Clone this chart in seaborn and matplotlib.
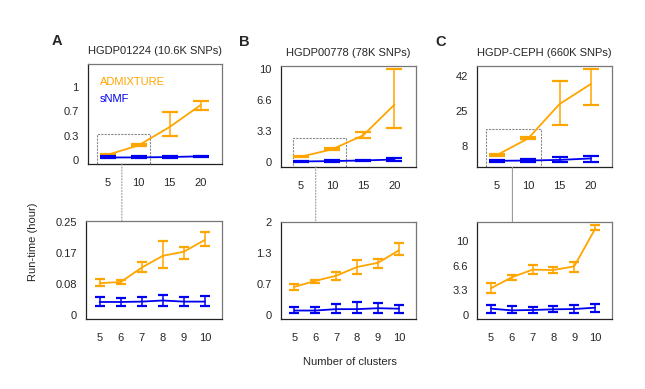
import numpy as np
import pandas as pd
import matplotlib
matplotlib.use("Agg")
import matplotlib.pyplot as plt
import seaborn as sns
from matplotlib.patches import Rectangle, ConnectionPatch
from matplotlib.transforms import blended_transform_factory

sns.set_style("white")
plt.rcParams['font.family'] = ['Liberation Sans', 'DejaVu Sans']
plt.rcParams['font.size'] = 8

# data (run time in hours)
k_top = [5, 10, 15, 20]
k_bot = [5, 6, 7, 8, 9, 10]

# panel A : HGDP01224
a_adm_top = [0.07, 0.2, 0.45, 0.75]
a_adm_top_lo = [0.06, 0.185, 0.33, 0.68]
a_adm_top_hi = [0.08, 0.224, 0.66, 0.81]
a_snmf_top = [0.034, 0.035, 0.04, 0.05]
a_snmf_top_lo = [0.024, 0.024, 0.03, 0.04]
a_snmf_top_hi = [0.048, 0.051, 0.05, 0.06]
a_adm_bot = [0.085, 0.088, 0.127, 0.159, 0.17, 0.202]
a_adm_bot_lo = [0.078, 0.082, 0.114, 0.126, 0.149, 0.185]
a_adm_bot_hi = [0.097, 0.093, 0.141, 0.199, 0.183, 0.224]
a_snmf_bot = [0.034, 0.034, 0.035, 0.038, 0.035, 0.035]
a_snmf_bot_lo = [0.024, 0.024, 0.024, 0.024, 0.024, 0.024]
a_snmf_bot_hi = [0.048, 0.044, 0.048, 0.053, 0.048, 0.051]

# panel B : HGDP00778
b_adm_top = [0.6, 1.39, 2.9, 6.2]
b_adm_top_lo = [0.54, 1.28, 2.65, 3.65]
b_adm_top_hi = [0.67, 1.55, 3.25, 10.0]
b_snmf_top = [0.09, 0.13, 0.2, 0.3]
b_snmf_top_lo = [0.04, 0.04, 0.1, 0.15]
b_snmf_top_hi = [0.16, 0.21, 0.3, 0.45]
b_adm_bot = [0.6, 0.73, 0.84, 1.03, 1.12, 1.39]
b_adm_bot_lo = [0.54, 0.68, 0.75, 0.88, 1.01, 1.28]
b_adm_bot_hi = [0.67, 0.75, 0.93, 1.17, 1.2, 1.55]
b_snmf_bot = [0.09, 0.09, 0.12, 0.12, 0.14, 0.13]
b_snmf_bot_lo = [0.04, 0.04, 0.04, 0.04, 0.04, 0.04]
b_snmf_bot_hi = [0.16, 0.16, 0.23, 0.28, 0.26, 0.21]

# panel C : HGDP-CEPH
c_adm_top = [3.6, 11.7, 28.4, 38.2]
c_adm_top_lo = [3.0, 11.5, 18.1, 28.0]
c_adm_top_hi = [4.3, 12.2, 39.4, 45.6]
c_snmf_top = [0.86, 0.99, 1.3, 2.0]
c_snmf_top_lo = [0.3, 0.41, 0.2, 0.5]
c_snmf_top_hi = [1.3, 1.53, 2.5, 3.1]
c_adm_bot = [3.62, 5.11, 6.15, 6.1, 6.6, 11.67]
c_adm_bot_lo = [2.98, 4.8, 5.6, 5.7, 5.88, 11.5]
c_adm_bot_hi = [4.34, 5.38, 6.74, 6.5, 7.24, 12.2]
c_snmf_bot = [0.86, 0.63, 0.68, 0.77, 0.81, 0.99]
c_snmf_bot_lo = [0.3, 0.27, 0.32, 0.35, 0.3, 0.41]
c_snmf_bot_hi = [1.3, 1.17, 1.13, 1.2, 1.3, 1.53]

titles = ["HGDP01224 (10.6K SNPs)", "HGDP00778 (78K SNPs)", "HGDP-CEPH (660K SNPs)"]
letters = ["A", "B", "C"]

top_ticks = [[0, 1/3, 2/3, 1], [0, 10/3, 20/3, 10], [0, 8, 25, 42]]
top_labels = [["0", "0.3", "0.7", "1"], ["0", "3.3", "6.6", "10"], ["", "8", "25", "42"]]
bot_ticks = [[0, 0.25/3, 0.5/3, 0.25], [0, 2/3, 4/3, 2], [0, 10/3, 20/3, 10]]
bot_labels = [["0", "0.08", "0.17", "0.25"], ["0", "0.7", "1.3", "2"], ["0", "3.3", "6.6", "10"]]
top_ylim = [(-0.055, 1.31), (-0.47, 10.35), (-2.3, 46.9)]
bot_ylim = [(-0.012, 0.254), (-0.093, 2.0), (-0.54, 12.66)]
zoom_box = [(3.3, 11.8, 0.35), (3.7, 12.2, 2.65), (3.3, 12.0, 16.3)]
link_x = [7.3, 7.4, 7.5]
letter_x = [-0.23, -0.27, -0.265]

ORANGE = "#FFA500"
BLUE = "#0000F0"

top_pos = [[0.136, 0.5784, 0.2078, 0.257],
           [0.4352, 0.5715, 0.2093, 0.2589],
           [0.739, 0.5699, 0.2102, 0.2604]]
bot_pos = [[0.1333, 0.18, 0.2104, 0.2527],
           [0.4352, 0.1799, 0.2093, 0.2494],
           [0.74, 0.18, 0.2084, 0.2501]]

panels = [
    (a_adm_top, a_adm_top_lo, a_adm_top_hi, a_snmf_top, a_snmf_top_lo, a_snmf_top_hi,
     a_adm_bot, a_adm_bot_lo, a_adm_bot_hi, a_snmf_bot, a_snmf_bot_lo, a_snmf_bot_hi),
    (b_adm_top, b_adm_top_lo, b_adm_top_hi, b_snmf_top, b_snmf_top_lo, b_snmf_top_hi,
     b_adm_bot, b_adm_bot_lo, b_adm_bot_hi, b_snmf_bot, b_snmf_bot_lo, b_snmf_bot_hi),
    (c_adm_top, c_adm_top_lo, c_adm_top_hi, c_snmf_top, c_snmf_top_lo, c_snmf_top_hi,
     c_adm_bot, c_adm_bot_lo, c_adm_bot_hi, c_snmf_bot, c_snmf_bot_lo, c_snmf_bot_hi),
]


def draw(ax, k, adm, adm_lo, adm_hi, snmf, snmf_lo, snmf_hi, cap):
    df = pd.DataFrame({"K": list(k) * 2,
                       "time": list(adm) + list(snmf),
                       "method": ["ADMIXTURE"] * len(k) + ["sNMF"] * len(k)})
    sns.lineplot(data=df, x="K", y="time", hue="method", ax=ax, legend=False,
                 palette={"ADMIXTURE": ORANGE, "sNMF": BLUE}, lw=1.3, errorbar=None)
    for m, lo, hi, col in [(adm, adm_lo, adm_hi, ORANGE), (snmf, snmf_lo, snmf_hi, BLUE)]:
        m = np.array(m)
        yerr = [m - np.array(lo), np.array(hi) - m]
        ax.errorbar(k, m, yerr=yerr, fmt="none", ecolor=col, elinewidth=1.1,
                    capsize=cap, capthick=1.6)


def style(ax):
    ax.set_xlabel("")
    ax.set_ylabel("")
    for side in ["top", "right"]:
        ax.spines[side].set_color("#777777")
    for side in ["left", "bottom"]:
        ax.spines[side].set_color("#222222")
    for s in ax.spines.values():
        s.set_linewidth(0.9)
    ax.tick_params(axis="x", length=4.5, width=0.7, color="#777777", pad=5.5, labelsize=8)
    ax.tick_params(axis="y", length=3.5, width=0.7, color="#222222", pad=3, labelsize=8)


fig = plt.figure(figsize=(6.45, 3.89), dpi=100)

for i in range(3):
    p = panels[i]
    ax_t = fig.add_axes(top_pos[i])
    ax_b = fig.add_axes(bot_pos[i])

    draw(ax_t, k_top, *p[:6], cap=5.5)
    draw(ax_b, k_bot, *p[6:], cap=3.5)

    ax_t.set_xlim(1.8, 23.4)
    ax_t.set_ylim(*top_ylim[i])
    ax_t.set_xticks(k_top)
    ax_t.set_xticklabels([str(v) for v in k_top])
    ax_t.set_yticks(top_ticks[i])
    ax_t.set_yticklabels(top_labels[i])

    ax_b.set_xlim(4.35, 10.8)
    ax_b.set_ylim(*bot_ylim[i])
    ax_b.set_xticks(k_bot)
    ax_b.set_xticklabels([str(v) for v in k_bot])
    ax_b.set_yticks(bot_ticks[i])
    ax_b.set_yticklabels(bot_labels[i])

    style(ax_t)
    style(ax_b)

    ax_t.set_title(titles[i], fontsize=8, pad=7)
    ax_t.text(letter_x[i], 1.235, letters[i], transform=ax_t.transAxes, fontsize=10.5,
              fontweight="bold", ha="center", va="center")

    # zoom rectangle and link line to the lower panel
    x0, x1, ytop = zoom_box[i]
    ylo = top_ylim[i][0]
    ax_t.add_patch(Rectangle((x0, ylo), x1 - x0, ytop - ylo, fill=False,
                             ec="#8a8a8a", lw=0.8, ls=(0, (2, 1)), clip_on=False, zorder=1))
    tr = blended_transform_factory(ax_t.transData, ax_b.transAxes)
    con = ConnectionPatch(xyA=(link_x[i], ylo), coordsA=ax_t.transData,
                          xyB=(link_x[i], 1.0), coordsB=tr,
                          color="#9a9a9a", lw=0.8, ls=":" if i < 2 else "-")
    fig.add_artist(con)

    if i == 0:
        ax_t.text(0.092, 0.823, "ADMIXTURE", color=ORANGE, transform=ax_t.transAxes,
                  fontsize=8, va="center")
        ax_t.text(0.092, 0.65, "sNMF", color=BLUE, transform=ax_t.transAxes,
                  fontsize=8, va="center")

fig.text(33 / 645, 1 - 242 / 389, "Run-time (hour)", rotation=90, ha="center", va="center", fontsize=8)
fig.text(350 / 645, 1 - 361.7 / 389, "Number of clusters", ha="center", va="center", fontsize=8)

fig.savefig("out.png", dpi=100)
